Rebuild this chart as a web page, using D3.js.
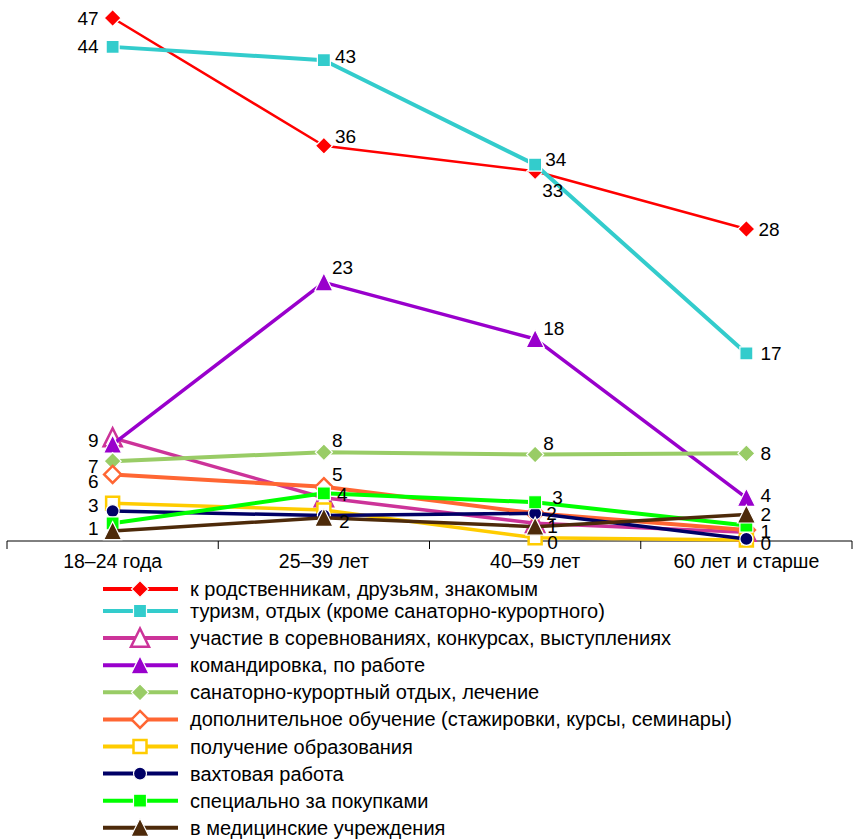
<!DOCTYPE html>
<html><head><meta charset="utf-8">
<script src="https://cdn.jsdelivr.net/npm/d3@7"></script>
<style>body{margin:0;background:#fff}svg{display:block;font-family:"Liberation Sans",Arial,sans-serif}</style>
</head><body>
<svg id="c" width="853" height="839"></svg>
<script>
// ---- data ----
const categories = ["18–24 года", "25–39 лет", "40–59 лет", "60 лет и старше"];
const seriesNames = [
  "к родственникам, друзьям, знакомым",
  "туризм, отдых (кроме санаторно-курортного)",
  "участие в соревнованиях, конкурсах, выступлениях",
  "командировка, по работе",
  "санаторно-курортный отдых, лечение",
  "дополнительное обучение (стажировки, курсы, семинары)",
  "получение образования",
  "вахтовая работа",
  "специально за покупками",
  "в медицинские учреждения"
];
const relatives   = [47, 35.5, 33.2, 28];
const tourism     = [44.4, 43.2, 33.8, 16.8];
const contests    = [9.2, 3.8, 1.5, 0.7];
const business    = [8.6, 23.2, 18.1, 3.8];
const sanatorium  = [7.1, 7.9, 7.7, 7.8];
const training    = [5.9, 4.8, 2.4, 0.9];
const education   = [3.3, 2.7, 0.2, 0.0];
const shiftWork   = [2.6, 2.2, 2.4, 0.1];
const shopping    = [1.5, 4.2, 3.4, 1.3];
const medical     = [0.8, 2.0, 1.2, 2.3];
const seriesValues = [relatives, tourism, contests, business, sanatorium, training, education, shiftWork, shopping, medical];
// shown data labels (null = not shown)
const seriesLabels = [
  ["47", "36", "33", "28"],
  ["44", "43", "34", "17"],
  ["9", null, null, null],
  [null, "23", "18", "4"],
  ["7", "8", "8", "8"],
  ["6", "5", null, null],
  ["3", null, "0", null],
  [null, null, "2", "0"],
  ["1", "4", "3", "1"],
  [null, "2", "1", "2"]
];

// ---- layout / style ----
const labelDy = [
  [0, -9, 19, 0],
  [0, -4, -5, 0],
  [3, 0, 0, 0],
  [0, -15, -10, -2],
  [5, -12, -11, 0],
  [7, -12, 0, 0],
  [2, 0, 5, 0],
  [0, 0, 0, 5],
  [5, 1, -5, 6],
  [0, 4, 0, 0]
];
const labelDx = [
  [0, 11, 7, 12],
  [0, 11, 10, 14],
  [0, 0, 0, 0],
  [0, 8, 8, 14],
  [0, 8, 8, 14],
  [0, 8, 0, 0],
  [0, 0, 12, 0],
  [0, 0, 11, 14],
  [0, 13, 17, 14],
  [0, 15, 12, 14]
];
const colors = ["#ff0000", "#33cccc", "#cc3399", "#9900cc", "#99cc66", "#ff6633", "#ffcc00", "#000066", "#00ff00", "#4d2a0a"];
const markers = ["diamond", "square", "triangle", "triangle", "diamond", "diamond", "square", "circle", "square", "triangle"];
const hollow = [false, false, true, false, false, true, true, false, false, false];
const lineW = [2.5, 4, 3.5, 3.5, 4, 4, 3.5, 3.5, 4, 3.5];

const svg = d3.select("#c");
const x = d3.scaleBand().domain(categories).range([7, 852]);
const y = d3.scaleLinear().domain([0, 47]).range([540, 18]);
const cx = c => x(c) + x.bandwidth() / 2;

// custom symbol types (size = half-extent)
const sym = {
  diamond: { draw(p, r) { p.moveTo(0, -r); p.lineTo(r, 0); p.lineTo(0, r); p.lineTo(-r, 0); p.closePath(); } },
  square: { draw(p, r) { p.rect(-r, -r, 2 * r, 2 * r); } },
  triangle: { draw(p, r) { const h = r * 1.9; p.moveTo(0, -h / 2 - 1); p.lineTo(r, h / 2); p.lineTo(-r, h / 2); p.closePath(); } },
  circle: { draw(p, r) { p.moveTo(r, 0); p.arc(0, 0, r, 0, 2 * Math.PI); } }
};
const symSize = { diamond: 8.5, square: 6.5, triangle: 9, circle: 6.5 };
function marker(g, i, px, py, scale) {
  const m = markers[i];
  const s = symSize[m] * (scale || 1);
  const path = d3.symbol().type(sym[m]).size(s)();
  if (hollow[i]) {
    g.append("path").attr("d", path).attr("transform", `translate(${px},${py})`)
      .attr("fill", "#fff").attr("stroke", colors[i]).attr("stroke-width", 2.5);
  } else {
    g.append("path").attr("d", path).attr("transform", `translate(${px},${py})`)
      .attr("fill", colors[i]).attr("stroke", "#fff").attr("stroke-width", 1.2);
  }
}

// axis
const axisY = 541;
svg.append("line").attr("x1", 7).attr("x2", 852).attr("y1", axisY).attr("y2", axisY).attr("stroke", "#000").attr("stroke-width", 1);
const bounds = categories.map(c => x(c)).concat([x(categories[categories.length - 1]) + x.bandwidth()]);
svg.selectAll(".tk").data(bounds).join("line")
  .attr("x1", d => d).attr("x2", d => d).attr("y1", axisY).attr("y2", axisY + 8)
  .attr("stroke", "#000").attr("stroke-width", 1);
svg.selectAll(".cat").data(categories).join("text")
  .attr("x", d => cx(d)).attr("y", 561).attr("text-anchor", "middle").attr("dominant-baseline", "central")
  .attr("font-size", 19.5).attr("fill", "#000").text(d => d);

// series
const line = d3.line().x((d, j) => cx(categories[j])).y(d => y(d));
seriesValues.forEach((vals, i) => {
  const g = svg.append("g");
  g.append("path").attr("d", line(vals)).attr("fill", "none").attr("stroke", colors[i])
    .attr("stroke-width", lineW[i]).attr("stroke-linejoin", "round");
  vals.forEach((v, j) => marker(g, i, cx(categories[j]), y(v)));
});
// labels
seriesValues.forEach((vals, i) => {
  vals.forEach((v, j) => {
    const t = seriesLabels[i][j];
    if (t == null) return;
    const px = cx(categories[j]), py = y(v);
    svg.append("text")
      .attr("x", j === 0 ? px - 14 : px + labelDx[i][j])
      .attr("y", py + labelDy[i][j])
      .attr("text-anchor", j === 0 ? "end" : "start")
      .attr("dominant-baseline", "central")
      .attr("font-size", 19).attr("fill", "#000").text(t);
  });
});

// legend
const lg = svg.append("g");
seriesNames.forEach((name, i) => {
  const ly = i === 0 ? 589 : 611 + (i - 1) * 27.1;
  lg.append("line").attr("x1", 103).attr("x2", 178).attr("y1", ly).attr("y2", ly)
    .attr("stroke", colors[i]).attr("stroke-width", 4);
  marker(lg, i, 140, ly);
  lg.append("text").attr("x", 190).attr("y", ly).attr("dominant-baseline", "central")
    .attr("font-size", 20).attr("fill", "#000").text(name);
});
</script>
</body></html>
